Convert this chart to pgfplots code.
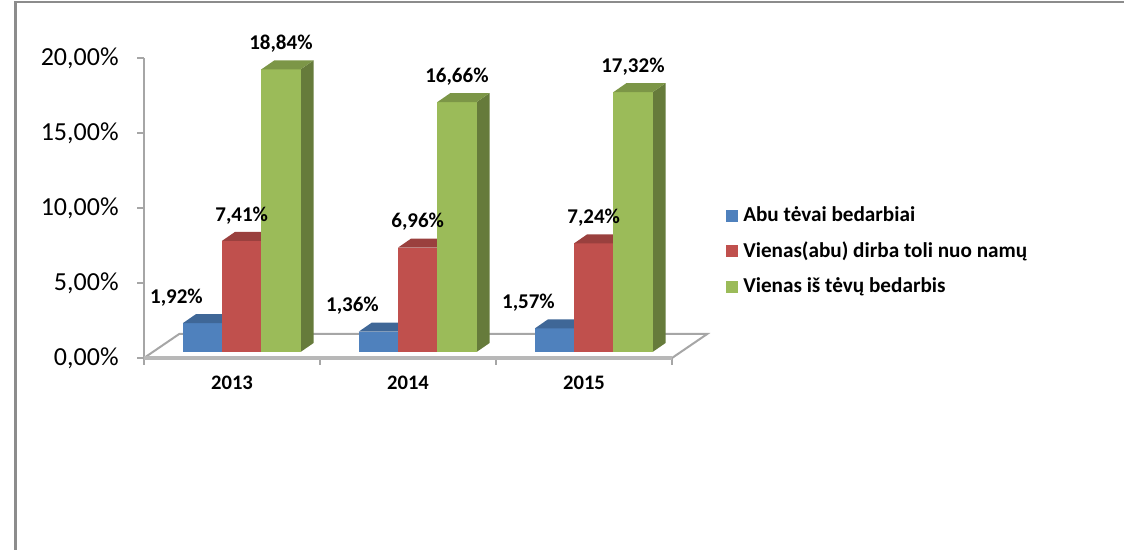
\documentclass[border=0pt]{standalone}
\usepackage{pgfplots}
\pgfplotsset{compat=1.18}
\usepackage{fontspec}
\setmainfont{Carlito}
\definecolor{cb}{HTML}{4F81BD}
\definecolor{cr}{HTML}{C0504D}
\definecolor{cg}{HTML}{9BBB59}
\definecolor{axgray}{HTML}{A6A6A6}
\definecolor{framegray}{HTML}{8C8C8C}

\newcommand\bw{0.223}
\newcommand\ddx{0.074}
\newcommand\ddy{0.6}
\newcommand\bbase{0.4}

% one 3-D bar: left x, value, colour
\newcommand\barddd[3]{%
 \pgfmathsetmacro\xa{#1}%
 \pgfmathsetmacro\xb{#1+\bw}%
 \pgfmathsetmacro\xc{#1+\bw+\ddx}%
 \pgfmathsetmacro\xd{#1+\ddx}%
 \pgfmathsetmacro\ya{\bbase}%
 \pgfmathsetmacro\yb{\bbase+#2}%
 \pgfmathsetmacro\yc{\bbase+#2+\ddy}%
 \pgfmathsetmacro\yd{\bbase+\ddy}%
 \edef\tmp{%
  \noexpand\addplot[draw=none, fill=#3!66!black] coordinates {(\xb,\ya) (\xc,\yd) (\xc,\yc) (\xb,\yb)};
  \noexpand\addplot[draw=none, fill=#3] coordinates {(\xa,\ya) (\xb,\ya) (\xb,\yb) (\xa,\yb)};
  \noexpand\addplot[draw=none, fill=#3!80!black] coordinates {(\xa,\yb) (\xb,\yb) (\xc,\yc) (\xd,\yc)};
 }\tmp
}

\begin{document}
\begin{tikzpicture}
\path[use as bounding box] (0,0) rectangle (564pt,275pt);
\draw[framegray, line width=1.1pt] (7.75pt,0) -- (7.75pt,274pt) -- (562pt,274pt);
\begin{axis}[
 at={(72pt,96pt)}, anchor=south west,
 scale only axis, width=264pt, height=150pt,
 xmin=-0.5, xmax=2.5, ymin=0, ymax=20,
 clip=false,
 axis x line*=bottom, axis y line*=left,
 axis line style={draw=axgray, line width=1pt, -},
 tick align=outside, major tick length=3.5pt,
 tick style={draw=axgray, line width=1pt},
 xtick={-0.5,0.5,1.5,2.5}, xticklabels={},
 extra x ticks={0,1,2}, extra x tick labels={2013,2014,2015},
 extra x tick style={major tick length=0pt,
   tick label style={font=\bfseries\fontsize{10.3}{12}\selectfont, anchor=center, yshift=-12.5pt}},
 ytick={0,5,10,15,20},
 yticklabels={{0,00\%},{5,00\%},{10,00\%},{15,00\%},{20,00\%}},
 yticklabel style={font=\fontsize{13}{15}\selectfont, anchor=east, xshift=-9pt, inner sep=0pt},
 legend style={at={(1.102,0.355)}, anchor=west, draw=none, fill=none,
   font=\bfseries\fontsize{10.6}{12}\selectfont, row sep=4.6pt, inner sep=0pt,
   nodes={inner xsep=2.5pt}},
 legend cell align=left,
 legend image code/.code={\fill (0pt,-3pt) rectangle (6pt,3pt);},
]
\addlegendimage{fill=cb, draw=none}
\addlegendentry{Abu tėvai bedarbiai}
\addlegendimage{fill=cr, draw=none}
\addlegendentry{Vienas(abu) dirba toli nuo namų}
\addlegendimage{fill=cg, draw=none}
\addlegendentry{Vienas iš tėvų bedarbis}

% floor
\addplot[fill=white, draw=axgray, line width=1pt] coordinates {(-0.5,0) (2.5,0) (2.7,1.6) (-0.3,1.6) (-0.5,0)};
\addplot[draw=axgray!80, line width=1.6pt] coordinates {(-0.5,0) (2.5,0)};

% 2013
\barddd{-0.2795}{1.92}{cb}
\barddd{-0.0565}{7.41}{cr}
\barddd{0.1665}{18.84}{cg}
% 2014
\barddd{0.7205}{1.36}{cb}
\barddd{0.9435}{6.96}{cr}
\barddd{1.1665}{16.66}{cg}
% 2015
\barddd{1.7205}{1.57}{cb}
\barddd{1.9435}{7.24}{cr}
\barddd{2.1665}{17.32}{cg}

% data labels
\addplot[draw=none, nodes near coords, point meta=explicit symbolic,
  every node near coord/.style={anchor=center, yshift=8.25pt, xshift=-13pt, text=black,
    font=\bfseries\fontsize{10.5}{12}\selectfont}]
  coordinates {(-0.168,2.92) [1,92\%] (0.832,2.36) [1,36\%] (1.832,2.57) [1,57\%]};
\addplot[draw=none, nodes near coords, point meta=explicit symbolic,
  every node near coord/.style={anchor=center, yshift=8.25pt, text=black,
    font=\bfseries\fontsize{10.5}{12}\selectfont}]
  coordinates {(0.055,8.41) [7,41\%] (1.055,7.96) [6,96\%] (2.055,8.24) [7,24\%]
               (0.278,19.84) [18,84\%] (1.278,17.66) [16,66\%] (2.278,18.32) [17,32\%]};
\end{axis}
\end{tikzpicture}
\end{document}
